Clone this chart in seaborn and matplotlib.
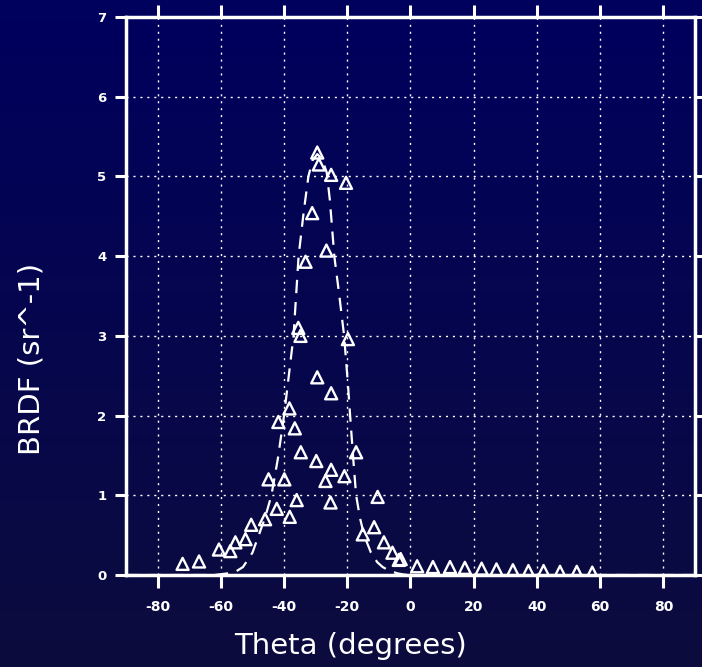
import numpy as np
import pandas as pd
import matplotlib
matplotlib.use('Agg')
import matplotlib.pyplot as plt
import seaborn as sns
from matplotlib.colors import LinearSegmentedColormap

# --- data ---
fit_theta = [-90, -70, -62, -58, -55, -53, -50, -48, -46, -44, -42, -40, -38.5, -37, -35.4,
             -33.8, -32.3, -31, -29.5, -28, -26.5, -25.5, -24.1, -22.5, -21, -19.8,
             -19.1, -18, -17.2, -16, -14.7, -12.5, -10.5, -8.8, -6.5, -4, -2, 0, 90]
fit_brdf = [0.0, 0.0, 0.0, 0.02, 0.05, 0.1, 0.28, 0.5, 0.72, 1.0, 1.45, 2.0, 2.5, 3.0, 4.0,
            4.55, 5.0, 5.2, 5.28, 5.22, 5.05, 4.7, 4.0, 3.5, 3.0, 2.4,
            2.0, 1.4, 1.0, 0.72, 0.5, 0.28, 0.16, 0.1, 0.05, 0.02, 0.005, 0.0, 0.0]

meas_theta = [-29.5, -29.0, -25.1, -20.4, -31.1, -33.2, -26.6, -34.8, -35.5, -19.8,
              -29.5, -25.1, -38.3, -41.8, -36.6, -34.7, -29.8, -25.1, -26.9, -20.9,
              -17.2, -39.9, -44.9, -36.0, -25.3, -42.3, -38.2, -46.0, -50.4, -52.2,
              -55.4, -57.0, -60.6, -66.9, -72.1, -10.4, -11.5, -15.1, -8.4, -5.7,
              -3.7, -3.1, 2.1, 7.1, 12.5, 17.2, 22.5, 27.2, 32.4, 37.3, 42.1,
              47.3, 52.6, 57.5]
meas_brdf = [5.3, 5.15, 5.02, 4.92, 4.54, 3.93, 4.07, 3.0, 3.1, 2.96,
             2.48, 2.28, 2.09, 1.92, 1.84, 1.54, 1.43, 1.32, 1.18, 1.24,
             1.54, 1.2, 1.2, 0.94, 0.91, 0.83, 0.73, 0.7, 0.63, 0.45,
             0.41, 0.3, 0.32, 0.17, 0.14, 0.98, 0.6, 0.51, 0.41, 0.28,
             0.19, 0.2, 0.11, 0.1, 0.1, 0.09, 0.08, 0.07, 0.06, 0.05, 0.05,
             0.04, 0.04, 0.03]

x_ticks = [-80, -60, -40, -20, 0, 20, 40, 60, 80]
y_ticks = [0, 1, 2, 3, 4, 5, 6, 7]

fit_df = pd.DataFrame({'theta': fit_theta, 'brdf': fit_brdf})
meas_df = pd.DataFrame({'theta': meas_theta, 'brdf': meas_brdf})

sns.set_style('dark')
plt.rcParams['font.family'] = ['DejaVu Sans']

fig = plt.figure(figsize=(7.02, 6.67), dpi=100)

# navy gradient background
bg = fig.add_axes([0, 0, 1, 1], zorder=-10)
cmap = LinearSegmentedColormap.from_list('navy', ['#0c0c3e', '#00005e'])
bg.imshow(np.linspace(0, 1, 256).reshape(-1, 1), aspect='auto', cmap=cmap,
          origin='lower', extent=[0, 1, 0, 1])
bg.axis('off')

ax = fig.add_axes([0.1795, 0.1379, 0.8105, 0.8366])
ax.set_facecolor('none')

sns.lineplot(data=fit_df, x='theta', y='brdf', ax=ax, color='white', lw=1.6,
             dashes=False, linestyle=(0, (6, 4)))
sns.scatterplot(data=meas_df, x='theta', y='brdf', ax=ax, marker='^', s=75,
                facecolor='none', edgecolor='white', linewidth=1.7)

ax.set_xlim(-90, 90)
ax.set_ylim(0, 7)
ax.set_xticks(x_ticks)
ax.set_yticks(y_ticks)
ax.set_xticklabels([str(t) for t in x_ticks], fontsize=10, fontweight='bold', color='white')
ax.set_yticklabels([str(t) for t in y_ticks], fontsize=9.5, fontweight='bold', color='white')
ax.tick_params(axis='x', which='both', direction='out', length=9, width=2.2,
               color='white', top=True, bottom=True, pad=9)
ax.tick_params(axis='y', which='both', direction='out', length=8, width=2.2,
               color='white', left=True, right=True, pad=6)
ax.grid(True, color='white', linestyle=(0, (1.5, 3.5)), linewidth=1.0)

for side in ['left', 'right', 'top', 'bottom']:
    ax.spines[side].set_visible(True)
    ax.spines[side].set_color('white')
    ax.spines[side].set_linewidth(2.5)

ax.set_xlabel('Theta (degrees)', fontsize=21, color='white')
ax.set_ylabel('BRDF (sr^-1)', fontsize=21, color='white')
ax.xaxis.set_label_coords(0.395, -0.102)
ax.yaxis.set_label_coords(-0.142, 0.387)

fig.savefig('out.png', dpi=100)
